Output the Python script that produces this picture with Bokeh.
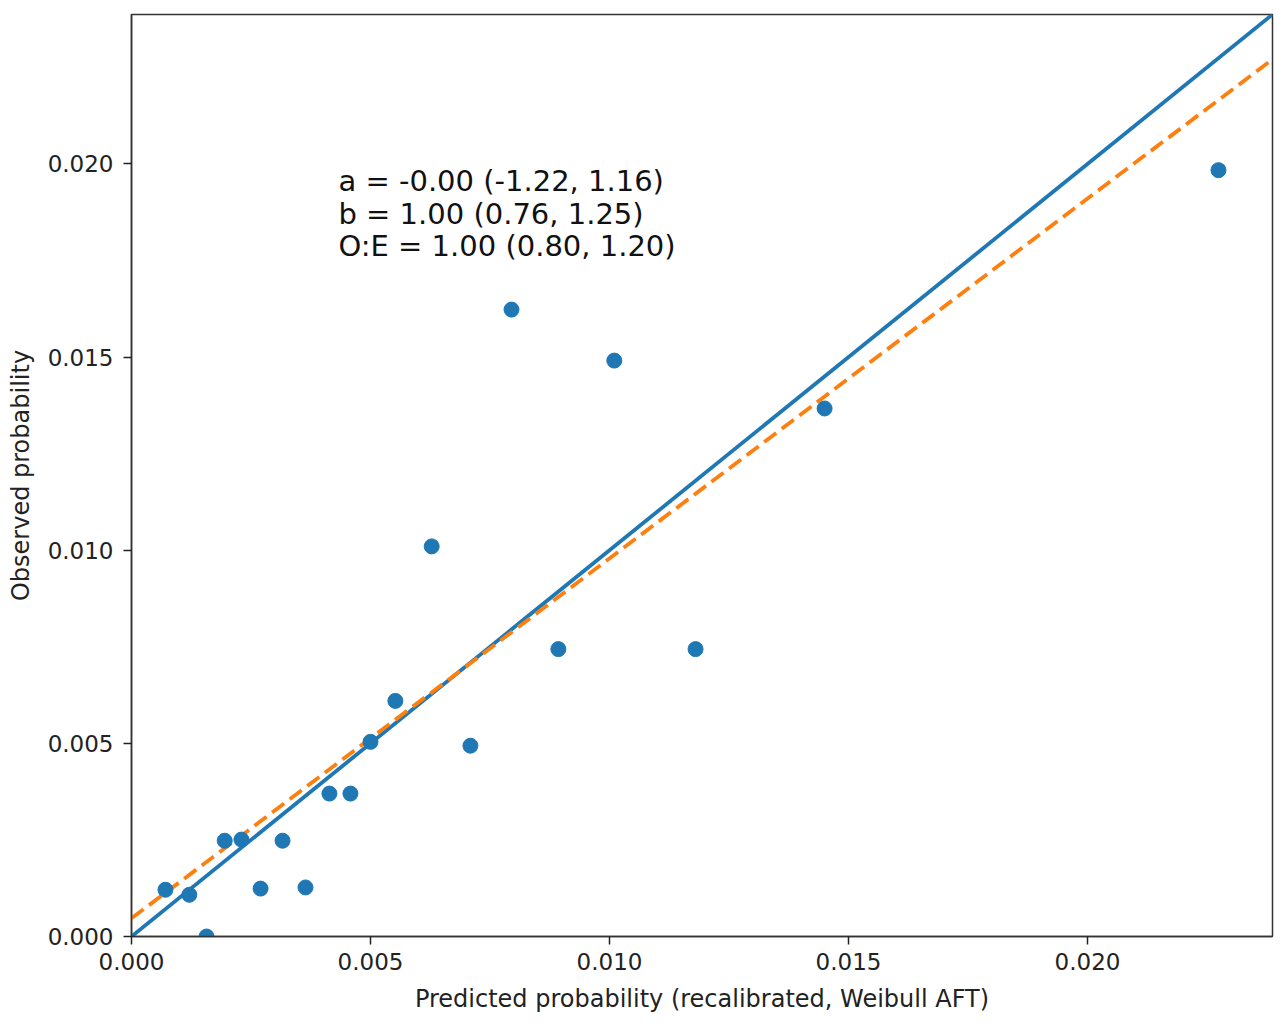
from bokeh.plotting import figure
from bokeh.models import Range1d, FixedTicker, NumeralTickFormatter, Label, ColumnDataSource
from bokeh.embed import file_html
from bokeh.resources import INLINE

# data
pred = [0.00071, 0.00121, 0.00157, 0.00195, 0.00230, 0.00270, 0.00316, 0.00364,
        0.00414, 0.00458, 0.00500, 0.00552, 0.00628, 0.00709, 0.00795, 0.00893,
        0.01010, 0.01180, 0.01450, 0.02274]
obs = [0.00121, 0.00108, 0.00000, 0.00248, 0.00251, 0.00124, 0.00248, 0.00127,
       0.00370, 0.00370, 0.00504, 0.00610, 0.01010, 0.00494, 0.01623, 0.00744,
       0.01491, 0.00744, 0.01367, 0.01984]
axis_max = 0.02387
fit_intercept = 0.00047
fit_slope = 0.9317
ticks = [0.0, 0.005, 0.010, 0.015, 0.020]
stats_lines = ["a = -0.00 (-1.22, 1.16)",
               "b = 1.00 (0.76, 1.25)",
               "O:E = 1.00 (0.80, 1.20)"]
stats_y = [0.01956, 0.01871, 0.01788]
stats_x = 0.00433

FONT = "DejaVu Sans"
p = figure(width=1274, height=1025, output_backend="svg", toolbar_location=None,
           x_range=Range1d(0, axis_max), y_range=Range1d(0, axis_max),
           min_border_left=131, min_border_right=2, min_border_top=14, min_border_bottom=89)
p.outline_line_color = "#333333"
p.outline_line_width = 1.5
p.grid.visible = False
p.background_fill_color = "white"
p.border_fill_color = "white"

for ax in (p.xaxis, p.yaxis):
    ax.ticker = FixedTicker(ticks=ticks)
    ax.formatter = NumeralTickFormatter(format="0.000")
    ax.minor_tick_line_color = None
    ax.major_tick_out = 8
    ax.major_tick_in = 0
    ax.major_tick_line_width = 1.5
    ax.major_tick_line_color = "#222222"
    ax.axis_line_color = "#333333"
    ax.axis_line_width = 1.5
    ax.major_label_text_font = FONT
    ax.major_label_text_font_size = "23px"
    ax.major_label_text_color = "#222222"
    ax.axis_label_text_font = FONT
    ax.axis_label_text_font_size = "24px"
    ax.axis_label_text_font_style = "normal"
    ax.axis_label_text_color = "#222222"

p.xaxis.axis_label = "Predicted probability (recalibrated, Weibull AFT)"
p.yaxis.axis_label = "Observed probability"
p.xaxis.axis_label_standoff = 12
p.yaxis.axis_label_standoff = 10
p.xaxis.major_label_standoff = 8
p.yaxis.major_label_standoff = 10

# reference line y = x
p.line([0, axis_max], [0, axis_max], line_color="#1f77b4", line_width=3.8)
# calibration fit line
p.line([0, axis_max], [fit_intercept, fit_intercept + fit_slope * axis_max],
       line_color="#ff7f0e", line_width=3.8, line_dash="15 7")

src = ColumnDataSource(dict(x=pred, y=obs))
p.scatter("x", "y", source=src, size=15, fill_color="#1f77b4", line_color="#1f77b4")

for txt, yy in zip(stats_lines, stats_y):
    p.add_layout(Label(x=stats_x, y=yy, text=txt, text_font=FONT, text_font_size="29px",
                       text_color="#111111", text_baseline="alphabetic"))

open("out.html", "w").write(file_html(p, INLINE))
